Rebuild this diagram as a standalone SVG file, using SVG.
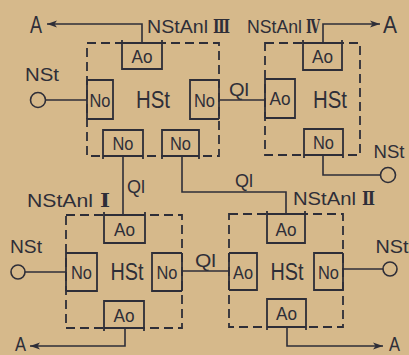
<svg xmlns="http://www.w3.org/2000/svg" width="409" height="355" viewBox="0 0 409 355">
  <style>
    .bg { fill: #d6b98b; }
    .frame { fill: none; stroke: #2e2e38; stroke-width: 1.8; stroke-dasharray: 9 5; }
    .unit { fill: none; stroke: #2e2e38; stroke-width: 1.8; }
    .wire { fill: none; stroke: #2e2e38; stroke-width: 1.6; }
    .term { fill: none; stroke: #2e2e38; stroke-width: 1.6; }
    text { font-family: "Liberation Sans", "DejaVu Sans", sans-serif; fill: #2e2e38; }
    .lab { font-size: 19px; }
    .big { font-size: 23px; }
    .low { font-size: 20px; }
    .sm { font-size: 18px; text-anchor: middle; }
    .mid { text-anchor: middle; }
    .num { font-family: "DejaVu Serif", serif; font-weight: bold; }
  </style>
  <defs>
    <marker id="head" viewBox="0 0 10 8" refX="10" refY="4" markerWidth="10" markerHeight="8" markerUnits="userSpaceOnUse" orient="auto">
      <path d="M0,0.5 L10,4 L0,7.5 L2.5,4 Z" fill="#2e2e38"/>
    </marker>
  </defs>

  <rect class="bg" x="0" y="0" width="409" height="355"/>

  <!-- connectors -->
  <g id="connectors">
    <!-- outgoing A lines -->
    <path class="wire" d="M142,43 V24 H47" marker-end="url(#head)"/>
    <path class="wire" d="M323,43 V24 H380" marker-end="url(#head)"/>
    <path class="wire" d="M125,328 V346 H30" marker-end="url(#head)"/>
    <path class="wire" d="M287,327 V346 H383" marker-end="url(#head)"/>
    <!-- Ql links -->
    <path class="wire" d="M219,100 H265"/>
    <path class="wire" d="M123,156 V215"/>
    <path class="wire" d="M182,156 V192 H286 V214"/>
    <path class="wire" d="M182,271 H229"/>
    <!-- NSt terminals -->
    <path class="wire" d="M46,100 H87"/>
    <circle class="term" cx="38" cy="100" r="7.5"/>
    <path class="wire" d="M323,155 V175 H380"/>
    <circle class="term" cx="388" cy="175" r="7.5"/>
    <path class="wire" d="M25,272 H66"/>
    <circle class="term" cx="18" cy="272" r="7"/>
    <path class="wire" d="M343,269 H383"/>
    <circle class="term" cx="390" cy="269" r="7"/>
    <!-- connector labels -->
    <text class="lab" x="229" y="96" textLength="20" lengthAdjust="spacingAndGlyphs">Ql</text>
    <text class="lab" x="127" y="193" textLength="18" lengthAdjust="spacingAndGlyphs">Ql</text>
    <text class="lab" x="235" y="187" textLength="18" lengthAdjust="spacingAndGlyphs">Ql</text>
    <text class="lab" x="195" y="267" textLength="21" lengthAdjust="spacingAndGlyphs">Ql</text>
    <text class="big" x="30" y="33" textLength="12" lengthAdjust="spacingAndGlyphs">A</text>
    <text class="big" x="383" y="33" textLength="14" lengthAdjust="spacingAndGlyphs">A</text>
    <text class="low" x="15" y="351" textLength="11" lengthAdjust="spacingAndGlyphs">A</text>
    <text class="low" x="389" y="351" textLength="11" lengthAdjust="spacingAndGlyphs">A</text>
    <text class="sm" x="42" y="81" textLength="34" lengthAdjust="spacingAndGlyphs">NSt</text>
    <text class="sm" x="389" y="158" textLength="31" lengthAdjust="spacingAndGlyphs">NSt</text>
    <text class="sm" x="26" y="253" textLength="32" lengthAdjust="spacingAndGlyphs">NSt</text>
    <text class="sm" x="392" y="253" textLength="33" lengthAdjust="spacingAndGlyphs">NSt</text>
  </g>

  <!-- station III (top left) -->
  <g id="station-3">
    <rect class="frame" x="87" y="43" width="132" height="113"/>
    <path class="unit" d="M122,40 V69 H162 V40 M122,43 H162"/>
    <path class="unit" d="M87,80 H113 V119 H87 M87,80 V119"/>
    <path class="unit" d="M219,80 H190 V119 H219 M219,80 V119"/>
    <path class="unit" d="M103,159 V130 H143 V159 M103,156 H143"/>
    <path class="unit" d="M162,159 V130 H199 V159 M162,156 H199"/>
    <text class="lab mid" x="142" y="63" textLength="21" lengthAdjust="spacingAndGlyphs">Ao</text>
    <text class="lab mid" x="100" y="107" textLength="21" lengthAdjust="spacingAndGlyphs">No</text>
    <text class="lab mid" x="204.5" y="107" textLength="21" lengthAdjust="spacingAndGlyphs">No</text>
    <text class="lab mid" x="123" y="150" textLength="21" lengthAdjust="spacingAndGlyphs">No</text>
    <text class="lab mid" x="180.5" y="150" textLength="21" lengthAdjust="spacingAndGlyphs">No</text>
    <text class="big mid" x="153" y="108" textLength="34" lengthAdjust="spacingAndGlyphs">HSt</text>
    <text class="lab" x="147" y="33"><tspan textLength="61" lengthAdjust="spacingAndGlyphs">NStAnl</tspan><tspan class="num" x="213" textLength="17" lengthAdjust="spacingAndGlyphs">Ⅲ</tspan></text>
  </g>

  <!-- station IV (top right) -->
  <g id="station-4">
    <rect class="frame" x="265" y="43" width="95" height="112"/>
    <path class="unit" d="M303,40 V70 H342 V40 M303,43 H342"/>
    <path class="unit" d="M265,79 H295 V118 H265 M265,79 V118"/>
    <path class="unit" d="M304,158 V129 H343 V158 M304,155 H343"/>
    <text class="lab mid" x="322.5" y="63" textLength="21" lengthAdjust="spacingAndGlyphs">Ao</text>
    <text class="lab mid" x="280" y="105" textLength="21" lengthAdjust="spacingAndGlyphs">Ao</text>
    <text class="lab mid" x="323.5" y="149" textLength="21" lengthAdjust="spacingAndGlyphs">No</text>
    <text class="big mid" x="330" y="108" textLength="34" lengthAdjust="spacingAndGlyphs">HSt</text>
    <text class="lab" x="247" y="33"><tspan textLength="55" lengthAdjust="spacingAndGlyphs">NStAnl</tspan><tspan class="num" x="306" textLength="14" lengthAdjust="spacingAndGlyphs">Ⅳ</tspan></text>
  </g>

  <!-- station I (bottom left) -->
  <g id="station-1">
    <rect class="frame" x="66" y="215" width="116" height="113"/>
    <path class="unit" d="M104,212 V243 H145 V212 M104,215 H145"/>
    <path class="unit" d="M66,253 H97 V291 H66 M66,253 V291"/>
    <path class="unit" d="M182,253 H152 V291 H182 M182,253 V291"/>
    <path class="unit" d="M104,331 V301 H144 V331 M104,328 H144"/>
    <text class="lab mid" x="124.5" y="236" textLength="21" lengthAdjust="spacingAndGlyphs">Ao</text>
    <text class="lab mid" x="81.5" y="279" textLength="21" lengthAdjust="spacingAndGlyphs">No</text>
    <text class="lab mid" x="167" y="279" textLength="21" lengthAdjust="spacingAndGlyphs">No</text>
    <text class="lab mid" x="124" y="322" textLength="21" lengthAdjust="spacingAndGlyphs">Ao</text>
    <text class="big mid" x="127" y="280" textLength="33" lengthAdjust="spacingAndGlyphs">HSt</text>
    <text class="lab" x="27" y="207"><tspan textLength="66" lengthAdjust="spacingAndGlyphs">NStAnl</tspan><tspan class="num" x="100" textLength="10" lengthAdjust="spacingAndGlyphs">Ⅰ</tspan></text>
  </g>

  <!-- station II (bottom right) -->
  <g id="station-2">
    <rect class="frame" x="229" y="214" width="114" height="113"/>
    <path class="unit" d="M267,211 V243 H305 V211 M267,214 H305"/>
    <path class="unit" d="M229,253 H257 V290 H229 M229,253 V290"/>
    <path class="unit" d="M343,253 H314 V290 H343 M343,253 V290"/>
    <path class="unit" d="M267,330 V299 H306 V330 M267,327 H306"/>
    <text class="lab mid" x="286" y="236" textLength="21" lengthAdjust="spacingAndGlyphs">Ao</text>
    <text class="lab mid" x="243" y="279" textLength="20" lengthAdjust="spacingAndGlyphs">Ao</text>
    <text class="lab mid" x="328.5" y="279" textLength="21" lengthAdjust="spacingAndGlyphs">No</text>
    <text class="lab mid" x="286.5" y="320" textLength="21" lengthAdjust="spacingAndGlyphs">Ao</text>
    <text class="big mid" x="287" y="280" textLength="33" lengthAdjust="spacingAndGlyphs">HSt</text>
    <text class="lab" x="293" y="205"><tspan textLength="63" lengthAdjust="spacingAndGlyphs">NStAnl</tspan><tspan class="num" x="362" textLength="13" lengthAdjust="spacingAndGlyphs">Ⅱ</tspan></text>
  </g>
</svg>
